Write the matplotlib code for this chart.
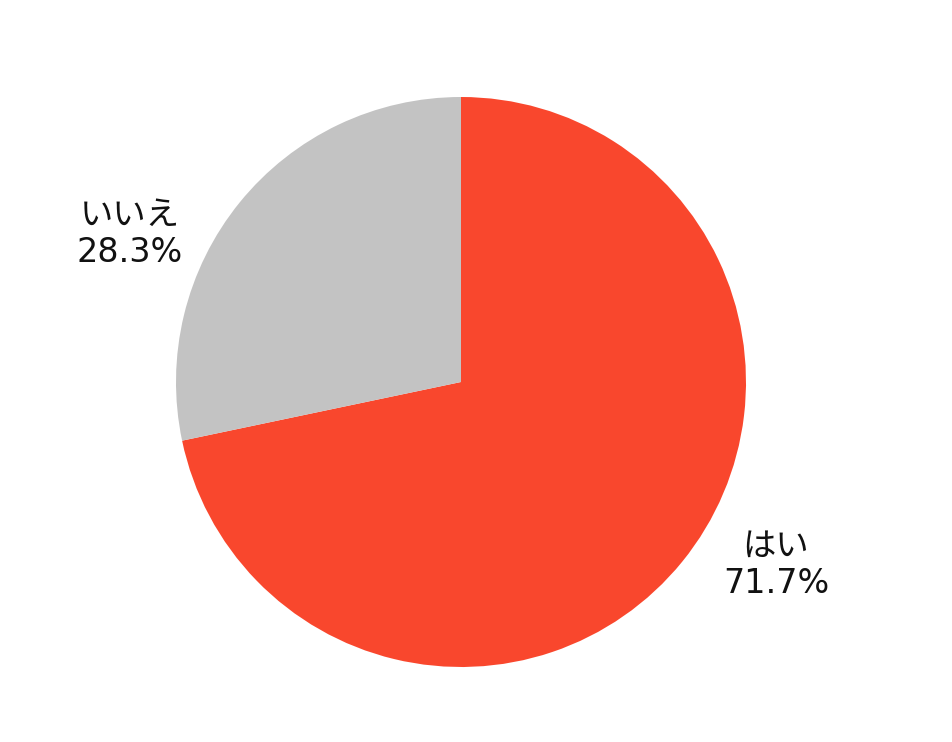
import matplotlib
matplotlib.use('Agg')
import matplotlib.pyplot as plt

plt.rcParams['font.family'] = ['DejaVu Sans', 'Noto Sans CJK JP']

labels = ['はい', 'いいえ']
values = [71.7, 28.3]
colors = ['#F9472D', '#C3C3C3']

fig = plt.figure(figsize=(9.53, 7.42), dpi=100)
ax = fig.add_axes([0, 0, 1, 1])

ax.pie(values, colors=colors, startangle=90, counterclock=False,
       center=(461, 360), radius=285, frame=True,
       wedgeprops=dict(linewidth=0))
ax.set_xlim(0, 953)
ax.set_ylim(0, 742)
ax.set_aspect('equal')
ax.axis('off')

# label positions (pixels, y from bottom)
label_pos = [(776, 177), (130, 508)]
for lab, val, (x, y) in zip(labels, values, label_pos):
    ax.text(x, y, f'{lab}\n{val}%', ha='center', va='center',
            fontsize=24, linespacing=1.15, color='#111111')

fig.savefig('out.png', dpi=100)
